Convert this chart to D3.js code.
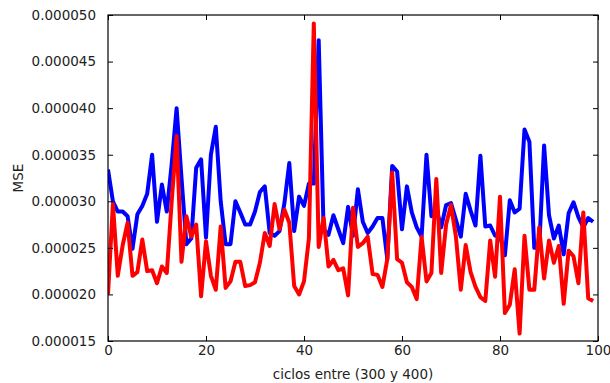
<!DOCTYPE html>
<html>
<head>
<meta charset="utf-8">
<script src="https://cdn.jsdelivr.net/npm/d3@7"></script>
<style>
  html, body { margin: 0; padding: 0; background: #ffffff; }
  svg { display: block; }
  text { font-family: "DejaVu Sans", sans-serif; fill: #222; }
</style>
</head>
<body>
<svg id="chart" width="610" height="383"></svg>
<script>
// Values in units of 1e-6 (MSE), one per cycle 0..99
const UNIT = 1e-6;
const blueSeries = [
  33.4, 30.0, 28.9, 28.9, 28.4, 24.9, 28.6, 29.5, 30.8, 35.0,
  27.8, 31.8, 28.9, 34.0, 40.0, 32.5, 25.4, 26.0, 33.6, 34.5,
  26.1, 35.0, 38.0, 30.0, 25.4, 25.4, 30.0, 28.8, 27.5, 27.5,
  28.9, 31.0, 31.6, 26.6, 26.3, 26.8, 29.8, 34.1, 26.8, 30.5,
  29.5, 31.9, 31.9, 47.3, 27.0, 26.4, 28.5, 27.0, 25.5, 29.4,
  26.3, 31.3, 27.8, 26.6, 27.3, 28.2, 28.2, 23.8, 33.8, 33.2,
  27.0, 31.6, 28.8, 27.2, 26.2, 35.0, 28.4, 29.2, 27.2, 29.6,
  29.8, 28.0, 26.2, 30.8, 29.0, 27.4, 34.9, 27.3, 27.4, 26.3,
  26.3, 24.2, 30.1, 28.8, 29.2, 37.7, 36.4, 25.0, 25.0, 36.0,
  28.5, 26.0, 27.4, 24.3, 28.7, 29.9, 28.3, 27.2, 28.2, 27.8
];
const redSeries = [
  20.0, 29.7, 22.0, 25.3, 27.7, 22.0, 22.4, 25.9, 22.5, 22.6,
  21.2, 23.0, 22.3, 30.0, 37.0, 23.5, 28.4, 26.2, 27.5, 19.8,
  25.7, 22.0, 20.5, 27.3, 20.7, 21.4, 23.5, 23.5, 20.9, 21.0,
  21.3, 23.4, 26.6, 25.2, 29.7, 27.0, 29.1, 27.7, 20.9, 20.0,
  21.4, 26.0, 49.1, 25.1, 28.2, 23.0, 23.7, 22.6, 22.8, 19.9,
  29.3, 25.1, 25.5, 26.2, 22.2, 22.1, 20.8, 23.8, 33.1, 23.8,
  23.4, 21.3, 20.8, 19.5, 26.2, 21.4, 22.3, 32.4, 22.3, 27.5,
  29.6, 26.2, 20.5, 25.3, 22.4, 20.8, 19.7, 19.3, 25.8, 21.9,
  30.5, 18.0, 18.9, 22.7, 15.8, 26.3, 20.5, 20.5, 27.2, 21.7,
  25.8, 23.4, 25.2, 19.0, 24.7, 24.1, 21.2, 28.8, 19.6, 19.3
];
const xTicks = [0, 20, 40, 60, 80, 100];
const yTicks = [0.000015, 0.000020, 0.000025, 0.000030, 0.000035, 0.000040, 0.000045, 0.000050];
const xLabel = "ciclos entre (300 y 400)";
const yLabel = "MSE";

(function () {
const svg = d3.select("#chart");
const pL = 108, pR = 598, pT = 15, pB = 341;

const x = d3.scaleLinear().domain([0, 100]).range([pL, pR]);
const y = d3.scaleLinear().domain([0.000015, 0.000050]).range([pB, pT]);

const line = d3.line()
  .x((d, i) => x(i))
  .y(d => y(d * UNIT));

svg.append("defs").append("clipPath").attr("id", "clip")
  .append("rect").attr("x", pL).attr("y", pT).attr("width", pR - pL).attr("height", pB - pT);

const lines = svg.append("g").attr("clip-path", "url(#clip)");
lines.append("path").datum(blueSeries)
  .attr("d", line).attr("fill", "none").attr("stroke", "#0000ff")
  .attr("stroke-width", 4).attr("stroke-linejoin", "round");
lines.append("path").datum(redSeries)
  .attr("d", line).attr("fill", "none").attr("stroke", "#ff0000")
  .attr("stroke-width", 4).attr("stroke-linejoin", "round");

const fmtY = d3.format(".6f");
const tickLen = 5;
const axB = svg.append("g").attr("transform", `translate(0,${pB})`)
  .call(d3.axisBottom(x).tickValues(xTicks).tickSizeInner(-tickLen).tickSizeOuter(0).tickPadding(4));
const axT = svg.append("g").attr("transform", `translate(0,${pT})`)
  .call(d3.axisTop(x).tickValues(xTicks).tickSizeInner(-tickLen).tickSizeOuter(0).tickFormat(""));
const axL = svg.append("g").attr("transform", `translate(${pL},0)`)
  .call(d3.axisLeft(y).tickValues(yTicks).tickSizeInner(-tickLen).tickSizeOuter(0).tickPadding(7 + tickLen).tickFormat(fmtY));
const axR = svg.append("g").attr("transform", `translate(${pR},0)`)
  .call(d3.axisRight(y).tickValues(yTicks).tickSizeInner(-tickLen).tickSizeOuter(0).tickFormat(""));

[axB, axT, axL, axR].forEach(a => {
  a.select(".domain").remove();
  a.selectAll("line").attr("stroke", "#000").attr("stroke-width", 1);
  a.selectAll("text").attr("font-family", "DejaVu Sans, sans-serif").attr("font-size", "13.5px").attr("fill", "#222");
});

svg.append("rect").attr("x", pL).attr("y", pT).attr("width", pR - pL).attr("height", pB - pT)
  .attr("fill", "none").attr("stroke", "#000").attr("stroke-width", 1.2);

svg.append("text").attr("x", (pL + pR) / 2).attr("y", 379)
  .attr("text-anchor", "middle").attr("font-size", "13.5px").text(xLabel);
svg.append("text").attr("transform", `translate(23,${(pT + pB) / 2}) rotate(-90)`)
  .attr("text-anchor", "middle").attr("font-size", "13.5px").text(yLabel);
})();
</script>
</body>
</html>
